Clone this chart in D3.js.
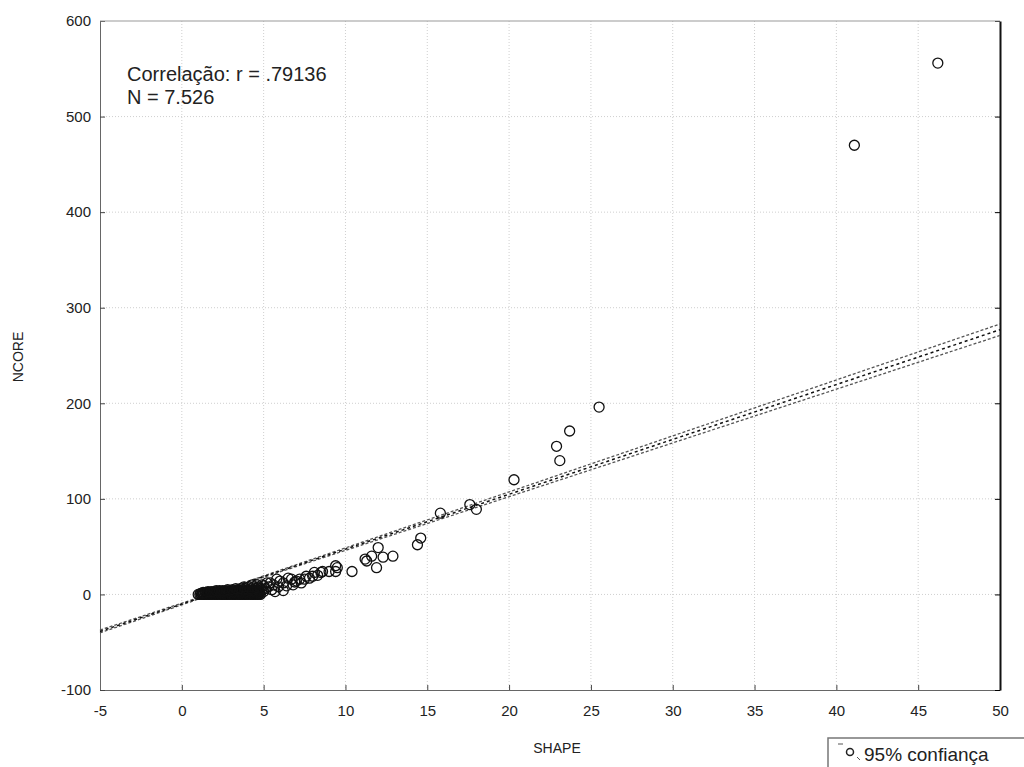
<!DOCTYPE html>
<html><head><meta charset="utf-8">
<script src="https://cdn.jsdelivr.net/npm/d3@7"></script>
<style>
body{margin:0;background:#fff;}
text{font-family:"Liberation Sans",Arial,sans-serif;fill:#222;}
</style></head>
<body><svg id="c" width="1024" height="767"></svg>
<script>
// ---- data ----
const xTicks = [-5,0,5,10,15,20,25,30,35,40,45,50];
const yTicks = [-100,0,100,200,300,400,500,600];
const xLabel = "SHAPE";
const yLabel = "NCORE";
const annotation = ["Correlação: r = .79136", "N = 7.526"];
const legendText = "95% confiança";
// regression line
const fitX = [-5, 50];
const fitY = [-38.7, 277];
// 95% confidence band (estimated)
const bandX = [-5, 3, 50];
const bandUpper = [-37.2, 7.7, 283];
const bandLower = [-40.2, 6.7, 271];
// dense cluster near origin (SHAPE, NCORE)
const clusterPoints = [
 [1.0,0],[1.1,0],[1.2,0],[1.3,0],[1.4,0],[1.5,0],[1.6,0],[1.7,0],[1.8,0],[1.9,0],[2.0,0],[2.1,0],[2.2,0],[2.3,0],[2.4,0],[2.5,0],[2.6,0],[2.7,0],[2.8,0],[2.9,0],
 [3.0,0],[3.1,0],[3.2,0],[3.3,0],[3.4,0],[3.5,0],[3.6,0],[3.7,0],[3.8,0],[3.9,0],[4.0,0],[4.1,0],[4.2,0],[4.3,0],[4.4,0],[4.5,0],[4.6,0],[4.7,0],[4.8,0],
 [1.15,1],[1.25,1],[1.35,1],[1.45,1],[1.55,1],[1.65,1],[1.75,1],[1.85,1],[1.95,1],[2.05,1],[2.15,1],[2.25,1],[2.35,1],[2.45,1],[2.55,1],[2.65,1],[2.75,1],[2.85,1],[2.95,1],
 [3.05,1],[3.15,1],[3.25,1],[3.35,1],[3.45,1],[3.55,1],[3.65,1],[3.75,1],[3.85,1],[3.95,1],[4.05,1],[4.15,1],[4.25,1],[4.35,1],[4.45,1],[4.55,1],[4.65,1],[4.75,1],
 [1.3,2],[1.45,2],[1.6,2],[1.75,2],[1.9,2],[2.05,2],[2.2,2],[2.35,2],[2.5,2],[2.65,2],[2.8,2],[2.95,2],[3.1,2],[3.25,2],[3.4,2],[3.55,2],[3.7,2],[3.85,2],[4.0,2],[4.15,2],[4.3,2],[4.45,2],[4.6,2],[4.75,2],
 [1.6,3],[1.8,3],[2.0,3],[2.2,3],[2.4,3],[2.6,3],[2.8,3],[3.0,3],[3.2,3],[3.4,3],[3.6,3],[3.8,3],[4.0,3],[4.2,3],[4.4,3],[4.6,3],
 [2.1,4],[2.3,4],[2.5,4],[2.7,4],[2.9,4],[3.1,4],[3.3,4],[3.5,4],[3.7,4],[3.9,4],[4.1,4],[4.3,4],[4.5,4],[4.7,4],
 [2.8,5],[3.1,5],[3.4,5],[3.7,5],[4.0,5],[4.3,5],[4.6,5],[4.9,5],
 [3.3,6],[3.6,6],[3.9,6],[4.2,6],[4.5,6],[4.8,6],
 [3.8,8],[4.1,8],[4.4,8],[4.7,8],[4.3,10],[4.6,10],[4.9,10]
];
// scattered points
const scatterPoints = [
 [4.6,7],[5.0,9],[5.0,3],[5.1,6],[5.2,12],[5.3,8],[5.4,12],[5.5,5],[5.6,10],[5.7,3],[5.8,16],[5.9,8],[6.0,14],[6.2,12],[6.2,4],[6.4,9],
 [6.5,17],[6.7,16],[6.8,10],[6.9,13],[7.0,14],[7.2,16],[7.3,12],[7.5,16],[7.6,19],[7.8,17],[8.0,19],[8.1,23],[8.3,20],[8.5,23],
 [8.6,24],[9.0,24],[9.4,30],[9.4,24],[9.5,28],[10.4,24],[11.2,37],[11.3,35],[11.6,40],[11.9,28],
 [12.0,49],[12.3,39],[12.9,40],[14.4,52],[14.6,59],[15.8,85],[17.6,94],[18.0,89],[20.3,120],
 [23.1,140],[22.9,155],[23.7,171],[25.5,196],[41.1,470],[46.2,556]
];

// ---- chart ----
const svg = d3.select("#c");
const L=100, R=1000, T=21, B=690;
const x = d3.scaleLinear().domain([-5,50]).range([L,R]);
const y = d3.scaleLinear().domain([-100,600]).range([B,T]);

// grid
svg.append("g").selectAll("line").data(xTicks.slice(1,-1)).join("line")
  .attr("x1",d=>x(d)).attr("x2",d=>x(d)).attr("y1",T).attr("y2",B)
  .attr("stroke","#cfcfcf").attr("stroke-dasharray","1,2");
svg.append("g").selectAll("line").data(yTicks.slice(1,-1)).join("line")
  .attr("y1",d=>y(d)).attr("y2",d=>y(d)).attr("x1",L).attr("x2",R)
  .attr("stroke","#cfcfcf").attr("stroke-dasharray","1,2");

// axes
const fmt = d=>String(d);
const ax = d3.axisBottom(x).tickValues(xTicks).tickSizeInner(-5).tickSizeOuter(0).tickPadding(12).tickFormat(fmt);
const gx = svg.append("g").attr("transform",`translate(0,${B})`).call(ax);
const ay = d3.axisLeft(y).tickValues(yTicks).tickSizeInner(-5).tickSizeOuter(0).tickPadding(9).tickFormat(fmt);
const gy = svg.append("g").attr("transform",`translate(${L},0)`).call(ay);
[gx,gy].forEach(g=>{
  g.selectAll("text").style("font-size","15px").style("font-family","'Liberation Sans',Arial,sans-serif").attr("fill","#444");
  g.select(".domain").attr("stroke","#666");
  g.selectAll(".tick line").attr("stroke","#444");
});
gx.selectAll("text").attr("dy","0.9em");
// right axis ticks
const ar = d3.axisRight(y).tickValues(yTicks).tickSizeInner(-5).tickSizeOuter(0).tickFormat("");
const gr = svg.append("g").attr("transform",`translate(${R},0)`).call(ar);
gr.select(".domain").attr("stroke","#111").attr("stroke-width",2);
// top border
svg.append("line").attr("x1",L).attr("x2",R).attr("y1",T).attr("y2",T).attr("stroke","#999");

// confidence bands
const line = d3.line().x(d=>x(d[0])).y(d=>y(d[1]));
svg.append("path").datum(bandX.map((v,i)=>[v,bandUpper[i]]))
  .attr("d",line).attr("fill","none").attr("stroke","#555").attr("stroke-width",1.3).attr("stroke-dasharray","3,2");
svg.append("path").datum(bandX.map((v,i)=>[v,bandLower[i]]))
  .attr("d",line).attr("fill","none").attr("stroke","#555").attr("stroke-width",1.3).attr("stroke-dasharray","3,2");
// regression
svg.append("path").datum(fitX.map((v,i)=>[v,fitY[i]]))
  .attr("d",line).attr("fill","none").attr("stroke","#111").attr("stroke-width",1.5).attr("stroke-dasharray","3,3");

// points
svg.append("g").selectAll("circle").data(clusterPoints.concat(scatterPoints)).join("circle")
  .attr("cx",d=>x(d[0])).attr("cy",d=>y(d[1])).attr("r",5)
  .attr("fill","none").attr("stroke","#111").attr("stroke-width",1.3);

// labels
svg.append("text").attr("x",(L+R)/2+7).attr("y",753).attr("text-anchor","middle")
  .style("font-size","14px").attr("fill","#444").text(xLabel);
svg.append("text").attr("transform","translate(23,357) rotate(-90)").attr("text-anchor","middle")
  .style("font-size","14px").attr("fill","#444").text(yLabel);

// annotation
svg.append("g").selectAll("text").data(annotation).join("text")
  .attr("x",127).attr("y",(d,i)=>81+i*23)
  .style("font-size","20px").attr("fill","#444").text(d=>d);

// legend
const lg = svg.append("g");
lg.append("rect").attr("x",828).attr("y",738).attr("width",200).attr("height",32)
  .attr("fill","#fff").attr("stroke","#777").attr("stroke-width",1.5);
lg.append("line").attr("x1",838).attr("x2",843).attr("y1",744).attr("y2",744).attr("stroke","#555");
lg.append("circle").attr("cx",850).attr("cy",752).attr("r",3.5).attr("fill","none").attr("stroke","#222").attr("stroke-width",1.5);
lg.append("line").attr("x1",857).attr("x2",860).attr("y1",757).attr("y2",760).attr("stroke","#555");
lg.append("text").attr("x",864).attr("y",761).style("font-size","19px").attr("fill","#444").text(legendText);
</script></body></html>
